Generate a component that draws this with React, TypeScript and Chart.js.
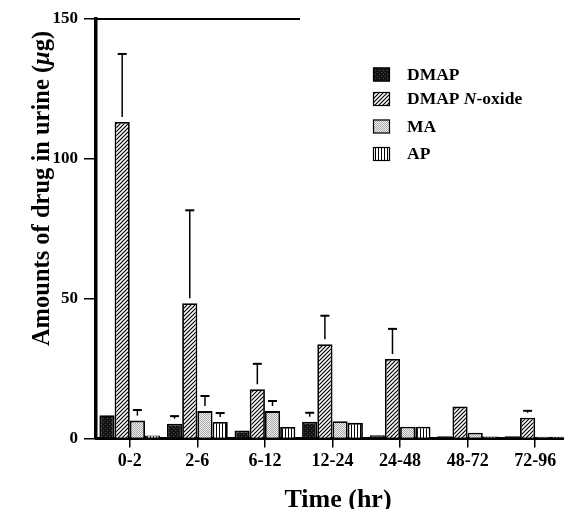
import React, { useEffect, useRef } from "react";
import { Chart, registerables } from "chart.js";

Chart.register(...registerables);

const categories = ["0-2", "2-6", "6-12", "12-24", "24-48", "48-72", "72-96"];
const seriesNames = ["DMAP", "DMAP N-oxide", "MA", "AP"];

const dmap = [8.3, 5.3, 2.9, 6.0, 1.2, 0.8, 0.8];
const dmapErr = [null, 2.7, null, 3.2, null, null, null];
const noxide = [113.2, 48.4, 17.6, 33.7, 28.4, 11.4, 7.4];
const noxideErr = [24.3, 33.2, 9.1, 10.2, 10.8, null, 2.5];
const ma = [6.4, 9.8, 9.8, 6.2, 4.2, 2.1, 0.6];
const maErr = [3.8, 5.4, 3.6, null, null, null, null];
const ap = [1.1, 5.9, 4.1, 5.6, 4.2, 0.7, 0.6];
const apErr = [null, 3.2, null, null, null, null, null];

const yTicks = [0, 50, 100, 150];

const SERIF = '"Liberation Serif", "Times New Roman", serif';

function makePattern(kind: string): CanvasPattern | string {
  const c = document.createElement("canvas");
  const ctx = c.getContext("2d");
  if (!ctx) return "#888";
  if (kind === "dark") {
    c.width = 4; c.height = 4;
    ctx.fillStyle = "#141414"; ctx.fillRect(0, 0, 4, 4);
    ctx.fillStyle = "#4a4a4a"; ctx.fillRect(1, 0, 1, 1); ctx.fillRect(3, 2, 1, 1);
  } else if (kind === "hatch") {
    c.width = 4; c.height = 4;
    ctx.fillStyle = "#fff"; ctx.fillRect(0, 0, 4, 4);
    ctx.strokeStyle = "#000"; ctx.lineWidth = 1.2;
    ctx.beginPath();
    ctx.moveTo(-1, 5); ctx.lineTo(5, -1);
    ctx.moveTo(-3, 3); ctx.lineTo(3, -3);
    ctx.moveTo(1, 7); ctx.lineTo(7, 1);
    ctx.stroke();
  } else if (kind === "stipple") {
    c.width = 2; c.height = 2;
    ctx.fillStyle = "#f0f0f0"; ctx.fillRect(0, 0, 2, 2);
    ctx.fillStyle = "#a8a8a8"; ctx.fillRect(0, 0, 1, 1); ctx.fillRect(1, 1, 1, 1);
  } else {
    c.width = 3; c.height = 1;
    ctx.fillStyle = "#fff"; ctx.fillRect(0, 0, 3, 1);
    ctx.fillStyle = "#000"; ctx.fillRect(0, 0, 1, 1);
  }
  return ctx.createPattern(c, "repeat") || "#888";
}

export default function App() {
  const ref = useRef<HTMLCanvasElement | null>(null);

  useEffect(() => {
    if (!ref.current) return;
    const fills = [makePattern("dark"), makePattern("hatch"), makePattern("stipple"), makePattern("vstripe")];
    const values = [dmap, noxide, ma, ap];
    const errs = [dmapErr, noxideErr, maErr, apErr];

    const overlay = {
      id: "overlay",
      afterDatasetsDraw(chart: any) {
        const ctx = chart.ctx as CanvasRenderingContext2D;
        const y = chart.scales.y;
        ctx.save();
        errs.forEach((arr, di) => {
          const meta = chart.getDatasetMeta(di);
          meta.data.forEach((bar: any, i: number) => {
            const e = arr[i];
            if (e == null) return;
            const v = values[di][i];
            const top = y.getPixelForValue(v + e);
            const x = bar.x;
            const lineBottom = bar.y - 5;
            ctx.strokeStyle = "#000";
            if (lineBottom > top) {
              ctx.lineWidth = 1.5;
              ctx.beginPath();
              ctx.moveTo(x, top);
              ctx.lineTo(x, lineBottom);
              ctx.stroke();
            }
            ctx.lineWidth = 2;
            ctx.beginPath();
            ctx.moveTo(x - 4.5, top);
            ctx.lineTo(x + 4.5, top);
            ctx.stroke();
          });
        });
        ctx.restore();
      },
      afterDraw(chart: any) {
        const ctx = chart.ctx as CanvasRenderingContext2D;
        const area = chart.chartArea;
        ctx.save();
        // partial top frame line
        ctx.strokeStyle = "#000";
        ctx.lineWidth = 2;
        ctx.beginPath();
        ctx.moveTo(area.left - 1.5, area.top);
        ctx.lineTo(300, area.top);
        ctx.stroke();

        // legend
        const rowsY = [67.5, 92, 119.5, 147];
        const bold = `bold 17.5px ${SERIF}`;
        const boldIt = `italic bold 17.5px ${SERIF}`;
        rowsY.forEach((ry, i) => {
          ctx.fillStyle = fills[i] as any;
          ctx.fillRect(373, ry, 17, 14);
          ctx.lineWidth = 1.2;
          ctx.strokeStyle = "#000";
          ctx.strokeRect(373.5, ry + 0.5, 16, 13);
          ctx.fillStyle = "#000";
          ctx.textBaseline = "middle";
          ctx.textAlign = "left";
          const cy = ry + 7.5;
          if (i === 1) {
            let x = 407;
            ctx.font = bold;
            ctx.fillText("DMAP ", x, cy);
            x += ctx.measureText("DMAP ").width;
            ctx.font = boldIt;
            ctx.fillText("N", x, cy);
            x += ctx.measureText("N").width;
            ctx.font = bold;
            ctx.fillText("-oxide", x, cy);
          } else {
            ctx.font = bold;
            ctx.fillText(seriesNames[i], 407, cy);
          }
        });

        // x title
        ctx.font = `bold 26px ${SERIF}`;
        ctx.textAlign = "center";
        ctx.textBaseline = "alphabetic";
        ctx.fillStyle = "#000";
        ctx.fillText("Time (hr)", 338, 507);

        // y title (rotated)
        const segs: [string, string][] = [
          ["Amounts of drug in urine (", `bold 24.5px ${SERIF}`],
          ["\u03bc", `italic bold 24.5px ${SERIF}`],
          ["g)", `bold 24.5px ${SERIF}`],
        ];
        let total = 0;
        segs.forEach(([t, f]) => { ctx.font = f; total += ctx.measureText(t).width; });
        ctx.translate(49, 188.5);
        ctx.rotate(-Math.PI / 2);
        ctx.textAlign = "left";
        let sx = -total / 2;
        segs.forEach(([t, f]) => {
          ctx.font = f;
          ctx.fillText(t, sx, 0);
          sx += ctx.measureText(t).width;
        });
        ctx.restore();
      },
    };

    const chart = new Chart(ref.current, {
      type: "bar",
      data: {
        labels: categories,
        datasets: values.map((vals, i) => ({
          label: seriesNames[i],
          data: vals,
          backgroundColor: fills[i] as any,
          borderColor: "#000",
          borderWidth: 1.8,
          categoryPercentage: 0.9,
          barPercentage: 1,
        })),
      },
      options: {
        animation: false,
        responsive: false,
        devicePixelRatio: 1,
        layout: { padding: { top: 19, right: 6, left: 0, bottom: 0 } },
        plugins: { legend: { display: false }, tooltip: { enabled: false } },
        scales: {
          x: {
            afterFit: (s: any) => { s.height = 70.5; },
            grid: {
              offset: false,
              drawOnChartArea: false,
              drawTicks: true,
              tickLength: 9,
              color: "#000",
              lineWidth: 1.5,
            },
            border: { display: true, color: "#000", width: 3 },
            ticks: {
              color: "#000",
              padding: 3,
              font: { family: SERIF, size: 18, weight: "bold" },
              maxRotation: 0,
              autoSkip: false,
            },
          },
          y: {
            min: 0,
            max: 150,
            afterFit: (s: any) => { s.width = 96; },
            afterBuildTicks: (s: any) => { s.ticks = yTicks.map((v) => ({ value: v })); },
            grid: {
              drawOnChartArea: false,
              drawTicks: true,
              tickLength: 12,
              color: "#000",
              lineWidth: 1.5,
            },
            border: { display: true, color: "#000", width: 3.5 },
            ticks: {
              color: "#000",
              padding: 6,
              font: { family: SERIF, size: 17, weight: "bold" },
            },
          },
        },
      },
      plugins: [overlay],
    } as any);

    return () => chart.destroy();
  }, []);

  return (
    <div
      style={{
        position: "absolute",
        left: 0,
        top: 0,
        width: 564,
        height: 509,
        overflow: "hidden",
        background: "#fff",
      }}
    >
      <canvas ref={ref} width={575} height={509} style={{ display: "block" }} />
    </div>
  );
}
